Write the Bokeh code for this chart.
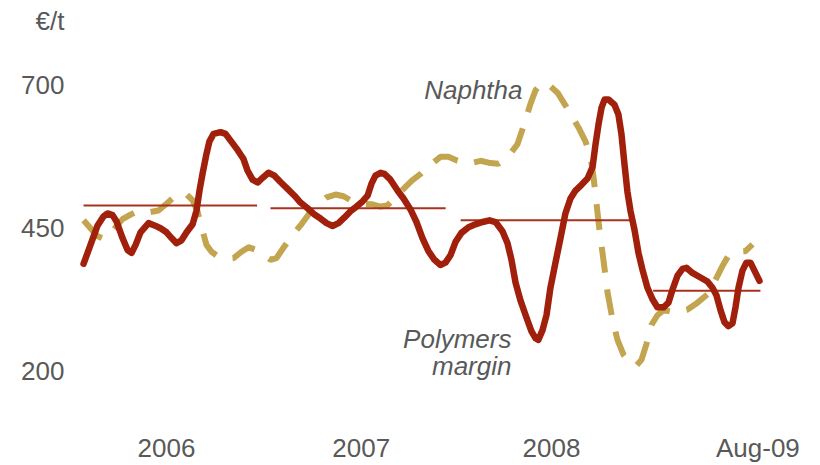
from bokeh.plotting import figure
from bokeh.models import Range1d, FixedTicker, Label
from bokeh.embed import file_html
from bokeh.resources import INLINE

# x = months since start of January 2006
polymer_month = [0.00, 0.44, 0.89, 1.27, 1.52, 1.84, 2.09, 2.47, 2.79, 3.04, 3.30, 3.61, 4.12, 4.50, 4.88,
                 5.26, 5.58, 5.89, 6.21, 6.53, 6.91, 7.16, 7.35, 7.54, 7.79, 7.98, 8.24, 8.68, 9.00, 9.38,
                 9.76, 10.14, 10.39, 10.71, 11.03, 11.34, 11.72, 12.10, 12.48, 12.93, 13.37, 13.75, 14.20,
                 14.64, 15.02, 15.40, 15.78, 16.16, 16.54, 16.92, 17.30, 17.68, 18.00, 18.25, 18.50, 18.82,
                 19.07, 19.45, 19.90, 20.28, 20.72, 21.10, 21.48, 21.86, 22.24, 22.62, 22.94, 23.26, 23.57,
                 23.95, 24.40, 24.84, 25.29, 25.73, 26.11, 26.55, 26.87, 27.12, 27.38, 27.69, 28.07, 28.39,
                 28.64, 28.83, 29.09, 29.34, 29.59, 29.91, 30.23, 30.54, 30.86, 31.18, 31.56, 31.94, 32.26,
                 32.45, 32.64, 32.83, 33.02, 33.27, 33.65, 33.90, 34.09, 34.28, 34.47, 34.66, 34.92, 35.17,
                 35.42, 35.74, 36.06, 36.37, 36.76, 37.07, 37.33, 37.64, 37.96, 38.21, 38.59, 39.10, 39.54,
                 39.86, 40.11, 40.37, 40.62, 40.87, 41.13, 41.32, 41.51, 41.76, 42.01, 42.27, 42.52, 42.84]
polymer_value = [387, 420, 454, 470, 475, 472, 461, 432, 411, 406, 420, 442, 458, 454, 449,
                 442, 432, 423, 428, 442, 456, 480, 515, 544, 579, 601, 614, 617, 614, 600,
                 586, 570, 550, 534, 529, 537, 546, 541, 530, 518, 506, 494, 484,
                 473, 466, 458, 453, 458, 468, 479, 487, 496, 506, 527, 541, 546,
                 544, 534, 515, 501, 482, 460, 432, 409, 394, 385, 389, 402, 425,
                 441, 451, 456, 460, 463, 460, 444, 423, 394, 354, 323, 293, 269,
                 257, 254, 271, 297, 345, 389, 432, 475, 501, 515, 525, 536, 556,
                 596, 631, 660, 674, 674, 665, 648, 614, 562, 513, 480, 446, 406,
                 377, 345, 325, 311, 311, 319, 342, 366, 378, 380, 371, 363, 356,
                 345, 332, 306, 285, 278, 283, 311, 345, 375, 389, 389, 375, 357]

naphtha_month = [0.00, 0.44, 0.89, 1.33, 1.71, 2.09, 2.47, 2.98, 3.42, 4.12, 4.75, 5.26, 5.83, 6.46, 6.91,
                 7.22, 7.41, 7.60, 7.79, 8.11, 8.56, 9.06, 9.51, 10.01, 10.46, 10.96, 11.41, 11.85, 12.23,
                 12.67, 13.18, 13.75, 14.26, 14.83, 15.40, 15.97, 16.48, 17.05, 17.68, 18.31, 18.82, 19.26,
                 19.77, 20.28, 20.79, 21.36, 21.99, 22.62, 23.13, 23.70, 24.40, 25.16, 25.79, 26.30, 26.93,
                 27.50, 27.88, 28.33, 28.64, 29.02, 29.47, 30.04, 30.54, 30.99, 31.43, 31.81, 32.13, 32.32,
                 32.51, 32.70, 32.95, 33.21, 33.52, 33.84, 34.22, 34.66, 35.04, 35.36, 35.68, 35.99, 36.37,
                 36.76, 37.52, 38.28, 38.91, 39.61, 40.05, 40.49, 40.87, 41.44, 41.95, 42.40]
naphtha_value = [463, 449, 435, 430, 439, 453, 465, 473, 479, 477, 480, 492, 506, 510, 498,
                 479, 458, 439, 420, 408, 399, 396, 397, 408, 416, 411, 402, 394, 397,
                 415, 435, 454, 473, 491, 503, 508, 505, 496, 492, 491, 487, 489,
                 503, 518, 532, 544, 560, 574, 574, 567, 562, 567, 563, 562, 575,
                 596, 627, 667, 690, 703, 700, 686, 664, 643, 622, 601, 574, 539,
                 492, 446, 394, 337, 290, 254, 228, 212, 209, 219, 247, 280, 297,
                 306, 302, 307, 319, 335, 359, 383, 401, 408, 409, 421]

# yearly averages of the polymers margin
avg_start = [0.0, 11.85, 23.9, 36.1]
avg_end = [11.0, 22.95, 34.65, 42.9]
avg_value = [489, 484, 463, 340]

year_ticks = [5.26, 17.6, 29.66, 42.74]
year_labels = ["2006", "2007", "2008", "Aug-09"]
value_ticks = [200, 450, 700]
unit_tick = 811.6
unit_label = "€/t"

GREY = "#595959"
FONT = "Liberation Sans"

p = figure(width=820, height=465, output_backend="svg", toolbar_location=None,
           x_range=Range1d(-0.51, 46.2), y_range=Range1d(155.0, 833.2),
           min_border_left=75, min_border_right=8, min_border_top=8, min_border_bottom=65)
p.outline_line_color = None
p.xgrid.visible = False
p.ygrid.visible = False
p.background_fill_color = "white"
p.border_fill_color = "white"

for ax in (p.xaxis[0], p.yaxis[0]):
    ax.axis_line_color = None
    ax.major_tick_line_color = None
    ax.minor_tick_line_color = None
    ax.major_tick_out = 0
    ax.major_tick_in = 0
    ax.minor_tick_out = 0
    ax.minor_tick_in = 0
    ax.major_label_text_font = FONT
    ax.major_label_text_font_size = "26px"
    ax.major_label_text_color = GREY

p.xaxis.ticker = FixedTicker(ticks=year_ticks)
p.xaxis.major_label_overrides = dict(zip(year_ticks, year_labels))
p.xaxis.major_label_standoff = 36
# value ticks plus the unit shown above the top tick
p.yaxis.ticker = FixedTicker(ticks=value_ticks + [unit_tick])
p.yaxis.major_label_overrides = {unit_tick: unit_label}
p.yaxis.major_label_standoff = 11

p.line(naphtha_month, naphtha_value, line_color="#C3A54F", line_width=6, line_dash="26 17")
p.segment(x0=avg_start, y0=avg_value, x1=avg_end, y1=avg_value, line_color="#A8321E", line_width=2)
p.line(polymer_month, polymer_value, line_color="#A0200C", line_width=6.5, line_join="round", line_cap="round")

p.add_layout(Label(x=27.82, y=690, text="Naphtha", text_align="right", text_baseline="alphabetic",
                   text_font=FONT, text_font_style="italic", text_font_size="26px", text_color=GREY))
p.add_layout(Label(x=27.12, y=255, text="Polymers", text_align="right", text_baseline="alphabetic",
                   text_font=FONT, text_font_style="italic", text_font_size="26px", text_color=GREY))
p.add_layout(Label(x=27.12, y=209, text="margin", text_align="right", text_baseline="alphabetic",
                   text_font=FONT, text_font_style="italic", text_font_size="26px", text_color=GREY))

open("out.html", "w").write(file_html(p, INLINE))
